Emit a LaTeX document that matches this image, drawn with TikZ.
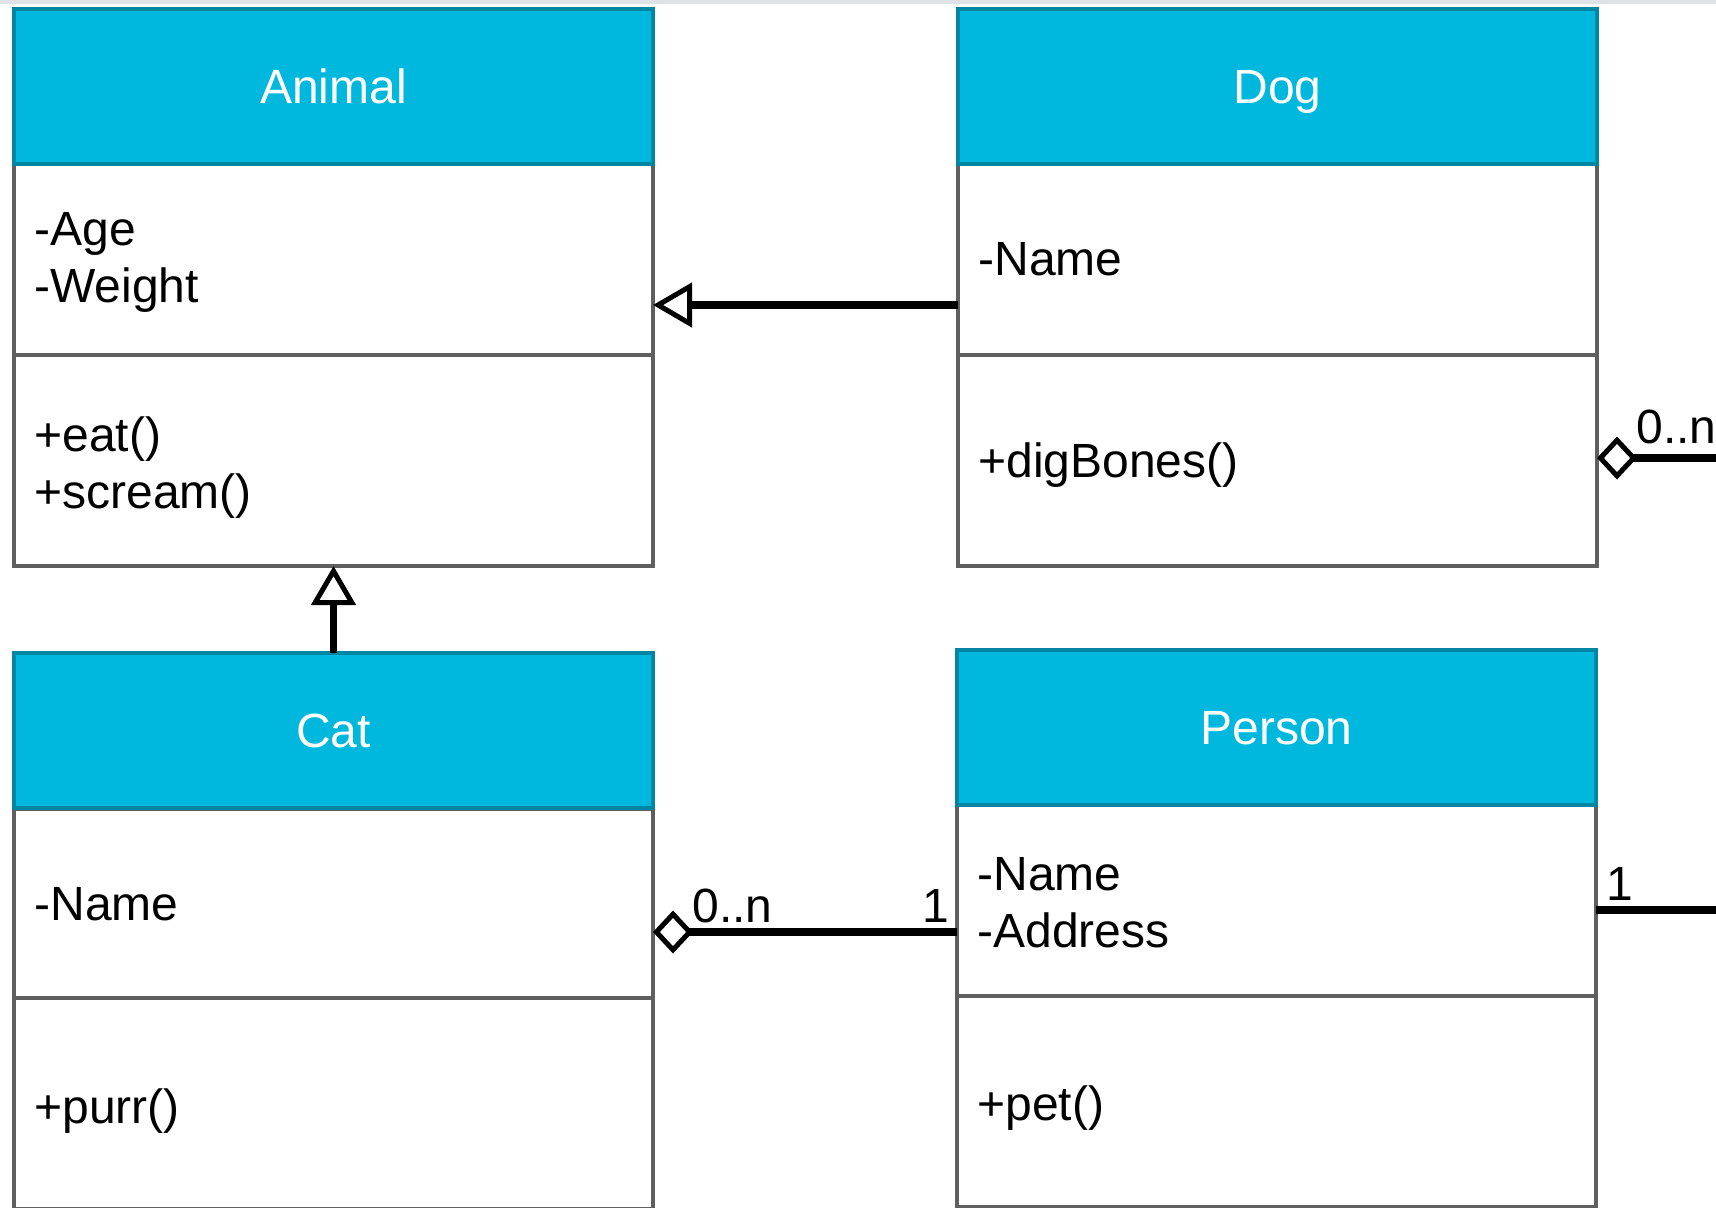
\documentclass[tikz,border=0pt]{standalone}
\usepackage{fontspec}
\setmainfont{Liberation Sans}
\usetikzlibrary{arrows.meta}

\definecolor{hdrfill}{RGB}{0,183,222}
\definecolor{hdrline}{RGB}{0,134,163}
\definecolor{boxline}{RGB}{95,95,95}
\definecolor{topstrip}{RGB}{221,227,230}

\tikzset{
  classhead/.style={draw=hdrline, fill=hdrfill, line width=2.4pt, text=white,
    anchor=north west, minimum width=319.5pt, minimum height=77.5pt,
    inner sep=0pt, outer sep=0pt, text height=17pt, text depth=0pt,
    font=\fontsize{24}{28.5}\selectfont},
  classpart/.style={draw=boxline, fill=white, line width=2.2pt,
    anchor=north west, minimum width=319.5pt, inner sep=0pt, outer sep=0pt},
  attrs/.style={classpart, minimum height=95.5pt},
  methods/.style={classpart, minimum height=105.5pt},
  members/.style={anchor=west, inner sep=0pt, align=left,
    font=\fontsize{24}{28.5}\selectfont},
  conn/.style={draw=black, line width=3.8pt},
  inh/.style={conn, -{Triangle[fill=white, length=19.5pt, width=22pt, line width=2.5pt]}},
  agg/.style={conn, {Diamond[fill=white, length=20pt, width=21.5pt, line width=2.5pt]}-},
  mult/.style={inner sep=0pt, anchor=base west, font=\fontsize{24}{28}\selectfont}
}

\begin{document}
\begin{tikzpicture}[x=0.5pt, y=-0.5pt]
  \useasboundingbox (0,0) rectangle (1716,1207);
  \clip (0,0) rectangle (1716,1207);
  \fill[topstrip] (0,0) rectangle (1716,4);

  % class compartments (attributes and operations)
  \node[attrs]   (animal-a) at (14,164) {};
  \node[methods] (animal-m) at (14,355) {};
  \node[attrs]   (dog-a)    at (958,164) {};
  \node[methods] (dog-m)    at (958,355) {};
  \node[attrs]   (cat-a)    at (14,809) {};
  \node[methods] (cat-m)    at (14,998) {};
  \node[attrs]   (person-a) at (957,805) {};
  \node[methods] (person-m) at (957,996) {};

  % compartment contents
  \node[members] (animal-at) at ([xshift=10pt, yshift=-1.5pt]animal-a.west) {-Age\\-Weight};
  \node[members] (animal-mt) at ([xshift=10pt, yshift=-3.5pt]animal-m.west) {+eat()\\+scream()};
  \node[members] (dog-at)    at ([xshift=10pt]dog-a.west) {-Name};
  \node[members] (dog-mt)    at ([xshift=10pt, yshift=-2.5pt]dog-m.west) {+digBones()};
  \node[members] (cat-at)    at ([xshift=10pt]cat-a.west) {-Name};
  \node[members] (cat-mt)    at ([xshift=10pt, yshift=-4pt]cat-m.west) {+purr()};
  \node[members] (person-at) at ([xshift=10pt, yshift=-1.2pt]person-a.west) {-Name\\-Address};
  \node[members] (person-mt) at ([xshift=10pt, yshift=-3.5pt]person-m.west) {+pet()};

  % class name headers
  \node[classhead] (animal) at (14,9)    {Animal};
  \node[classhead] (dog)    at (958,9)   {Dog};
  \node[classhead] (cat)    at (14,653)  {Cat};
  \node[classhead] (person) at (957,650) {Person};

  % connector levels
  \coordinate (yinh) at (0,305);
  \coordinate (ycat) at (0,932);
  \coordinate (ydog) at (0,458);
  \coordinate (ypers) at (0,910);
  \coordinate (rt1) at (1724,458);
  \coordinate (rt2) at (1724,910);

  % generalisations
  \draw[inh] (dog-a.west |- yinh) -- (animal-a.east |- yinh);
  \draw[inh] (cat.north) -- (animal-m.south);

  % aggregations
  \draw[agg] (cat-a.east |- ycat) -- (person-a.west |- ycat);
  \draw[agg] (dog-m.east |- ydog) -- (rt1) -- (rt2) -- (person-a.east |- ypers);

  % multiplicities
  \node[mult] (m1) at (692,922) {0..n};
  \node[mult, anchor=base east] (m2) at (950,922) {1};
  \node[mult] (m3) at (1636,443) {0..n};
  \node[mult] (m4) at (1606,900) {1};
\end{tikzpicture}
\end{document}
